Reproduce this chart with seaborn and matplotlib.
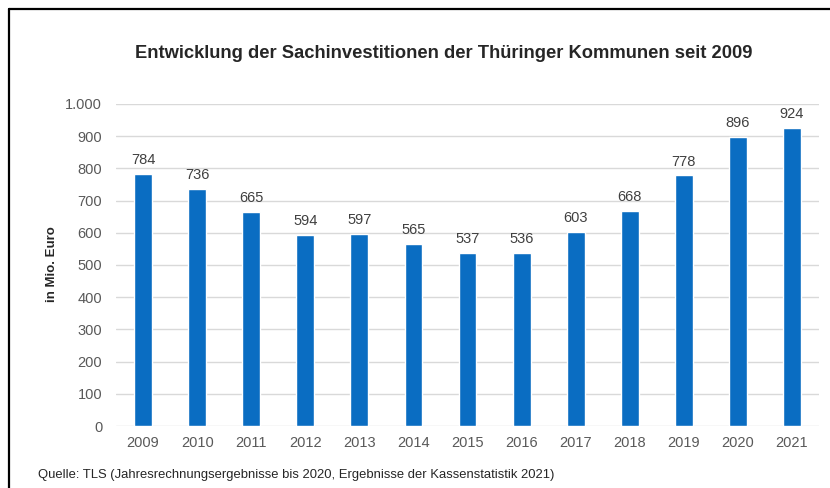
import matplotlib
matplotlib.use("Agg")
import matplotlib.pyplot as plt
import seaborn as sns
from matplotlib.lines import Line2D
from matplotlib.ticker import FuncFormatter, MultipleLocator

# values
years = ["2009", "2010", "2011", "2012", "2013", "2014", "2015",
         "2016", "2017", "2018", "2019", "2020", "2021"]
invest = [784, 736, 665, 594, 597, 565, 537, 536, 603, 668, 778, 896, 924]

title = "Entwicklung der Sachinvestitionen der Thüringer Kommunen seit 2009"
source = "Quelle: TLS (Jahresrechnungsergebnisse bis 2020, Ergebnisse der Kassenstatistik 2021)"

sns.set_style("white")
plt.rcParams["font.family"] = ["Liberation Sans", "DejaVu Sans"]

fig = plt.figure(figsize=(8.3, 4.88), dpi=100)
ax = fig.add_axes([0.1398, 0.127, 0.847, 0.66])

sns.barplot(x=years, y=invest, color="#0A6DC2", width=0.33, saturation=1, ax=ax)

ax.set_ylim(0, 1000)
ax.yaxis.set_major_locator(MultipleLocator(100))
ax.yaxis.set_major_formatter(FuncFormatter(lambda v, p: f"{int(v):,}".replace(",", ".")))
ax.grid(axis="y", color="#D9D9D9", linewidth=1)
ax.set_axisbelow(True)
sns.despine(ax=ax, left=True, bottom=True)
ax.tick_params(axis="both", length=0, labelsize=10.5, labelcolor="#595959")
ax.tick_params(axis="y", pad=10)
ax.tick_params(axis="x", pad=7)
ax.set_xlabel("")
ax.set_ylabel("")

ax.bar_label(ax.containers[0], padding=5, fontsize=10.5, color="#404040")

fig.text(444 / 830, 1 - 53 / 488, title, ha="center", va="center", fontsize=13.2, fontweight="bold")
fig.text(52 / 830, 1 - 264 / 488, "in Mio. Euro", rotation=90, ha="center", va="center",
         fontsize=9.5, fontweight="bold")
fig.text(38 / 830, 1 - 475 / 488, source, ha="left", va="center", fontsize=9.4)

# frame lines at top and left as in the reference
fig.add_artist(Line2D([8.5 / 830, 8.5 / 830], [0, 1 - 9 / 488], transform=fig.transFigure,
                      color="black", linewidth=1.6))
fig.add_artist(Line2D([8.5 / 830, 1], [1 - 9 / 488, 1 - 9 / 488], transform=fig.transFigure,
                      color="black", linewidth=1.6))

fig.savefig("out.png", dpi=100)
